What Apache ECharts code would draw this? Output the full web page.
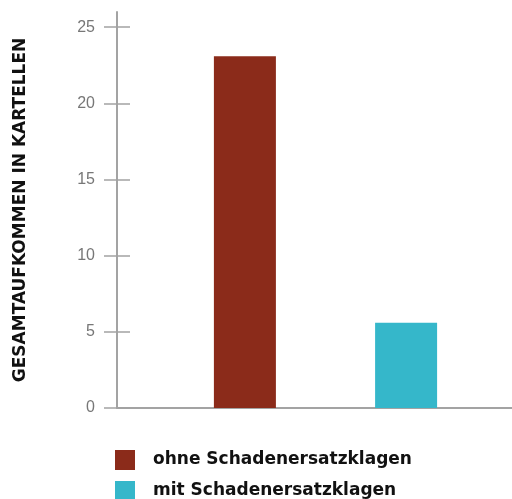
<!DOCTYPE html>
<html><head><meta charset="utf-8">
<script src="https://cdn.jsdelivr.net/npm/echarts@6/dist/echarts.min.js"></script>
<style>html,body{margin:0;padding:0;background:#fff}#c{width:512px;height:499px}</style>
</head><body><div id="c"></div>
<script>
var categories = ['Kartelle'];
var seriesNames = ['ohne Schadenersatzklagen', 'mit Schadenersatzklagen'];
var valuesOhne = [23.1];
var valuesMit = [5.6];
var yTicks = [0, 5, 10, 15, 20, 25];
var yAxisTitle = 'GESAMTAUFKOMMEN IN KARTELLEN';

var chart = echarts.init(document.getElementById('c'));
var axisCol = '#a3a3a3';
var font = 'Liberation Sans, Arial, sans-serif';
chart.setOption({
  animation: false,
  grid: { left: 117, top: 12, width: 417, height: 396, outerBoundsMode: 'none' },
  xAxis: {
    type: 'category', data: categories,
    axisLine: { lineStyle: { color: axisCol, width: 2 } },
    axisTick: { show: false }, axisLabel: { show: false }
  },
  yAxis: [{
    type: 'value', min: 0, max: 26, interval: 5,
    name: yAxisTitle, nameLocation: 'middle', nameGap: 88, nameRotate: 90,
    nameTextStyle: { fontFamily: 'DejaVu Sans', fontWeight: 'bold', fontSize: 17, color: '#111' },
    axisLine: { show: true, lineStyle: { color: axisCol, width: 2 } },
    axisTick: { show: true, length: 13, customValues: yTicks, lineStyle: { color: axisCol, width: 1.5 } },
    axisLabel: { customValues: yTicks, margin: 22, fontFamily: font, fontSize: 16, color: '#777' },
    splitLine: { show: false }
  }, {
    type: 'value', min: 0, max: 26, interval: 5, position: 'left',
    axisLine: { show: false },
    axisTick: { show: true, inside: true, length: 13, customValues: yTicks, lineStyle: { color: axisCol, width: 1.5 } },
    axisLabel: { show: false }, splitLine: { show: false }
  }],
  legend: {
    orient: 'vertical', left: 115, top: 450, height: 80, padding: 0, itemWidth: 20, itemHeight: 20, itemGap: 11,
    icon: 'rect',
    textStyle: { fontFamily: 'DejaVu Sans', fontWeight: 'bold', fontSize: 17, color: '#111', padding: [0, 0, 0, 13] },
    data: seriesNames
  },
  series: [
    { name: seriesNames[0], type: 'bar', data: valuesOhne, barWidth: 62, barGap: '160%', itemStyle: { color: '#8b2b1a' } },
    { name: seriesNames[1], type: 'bar', data: valuesMit, barWidth: 62, itemStyle: { color: '#35b7ca' } }
  ]
});
</script></body></html>
